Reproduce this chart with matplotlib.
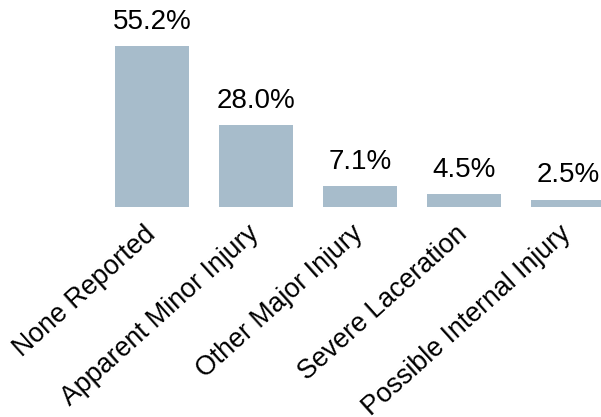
import matplotlib.pyplot as plt
from matplotlib.transforms import ScaledTranslation

plt.rcParams['font.family'] = ['Liberation Sans', 'DejaVu Sans']

categories = ["None Reported", "Apparent Minor Injury", "Other Major Injury",
              "Severe Laceration", "Possible Internal Injury"]
shares = [55.2, 28.0, 7.1, 4.5, 2.5]
value_labels = ["55.2%", "28.0%", "7.1%", "4.5%", "2.5%"]

W, H = 601, 417
fig = plt.figure(figsize=(W / 100, H / 100), dpi=100)

# baseline at 207 px from the top, 104 px between bars, ~2.92 px per percent
base_px = 207
step = 104
px_per_pct = 2.917
x0_px = 152

ax = fig.add_axes([0, (H - base_px) / H, 1, base_px / H])
ax.set_xlim(-x0_px / step, (W - x0_px) / step)
ax.set_ylim(0, base_px / px_per_pct)

xs = list(range(len(categories)))
ax.bar(xs, shares, width=0.71, color="#a7bccb")

for x, v, lab in zip(xs, shares, value_labels):
    ax.annotate(lab, (x, v), xytext=(0, 12.5), textcoords="offset points",
                ha="center", va="baseline", fontsize=20, color="black")

ax.set_xticks(xs)
ax.set_xticklabels(categories, rotation=42, ha="right", va="top",
                   rotation_mode="anchor", fontsize=19.3)
ax.tick_params(axis="x", length=0, pad=10)
# rotated labels end a little left of the bar centre
shift = ScaledTranslation(-9 / 100, 0, fig.dpi_scale_trans)
for lbl in ax.get_xticklabels():
    lbl.set_transform(lbl.get_transform() + shift)
ax.set_yticks([])
for s in ax.spines.values():
    s.set_visible(False)
ax.patch.set_alpha(0)

fig.savefig("out.png", dpi=100)
